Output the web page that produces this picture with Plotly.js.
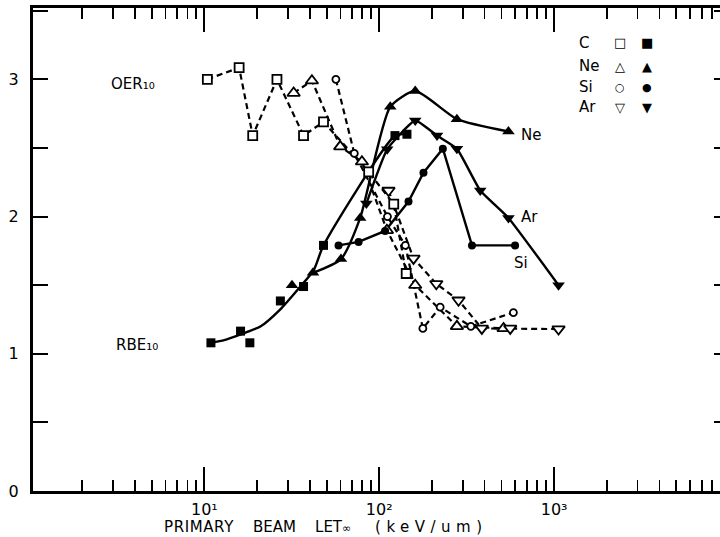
<!DOCTYPE html>
<html>
<head>
<meta charset="utf-8">
<script src="https://cdn.plot.ly/plotly-3.0.1.min.js"></script>
<style>
html, body { margin:0; padding:0; overflow:hidden; background:#fff; }
#chart { width:735px; height:537px; }
</style>
</head>
<body>
<div id="chart"></div>
<script>
// ---- Data (LET in keV/um) ----
// OER10 (open symbols, dashed)
const oerC_x  = [10.4, 15.8, 18.9, 26, 36.9, 48, 87, 121, 142.6];
const oerC_y  = [3.0, 3.085, 2.59, 3.0, 2.59, 2.69, 2.325, 2.09, 1.585];
const oerNe_x = [32.4, 41.2, 59.8, 79.6, 110.6, 160.6, 278, 514];
const oerNe_y = [2.90, 2.99, 2.51, 2.40, 1.90, 1.50, 1.20, 1.185];
const oerSi_x = [56.5, 72, 111.4, 141, 177.6, 223, 334, 585];
const oerSi_y = [3.0, 2.46, 2.0, 1.79, 1.185, 1.34, 1.20, 1.30];
const oerAr_x = [113, 157, 212, 284, 386, 561, 1060];
const oerAr_y = [2.19, 1.695, 1.51, 1.39, 1.185, 1.185, 1.18];

// RBE10 (filled symbols, solid)
const rbeC_x  = [10.9, 16.1, 18.2, 27.2, 36.9, 48, 123, 144];
const rbeC_y  = [1.08, 1.165, 1.08, 1.385, 1.49, 1.79, 2.59, 2.60];
const rbeNe_x = [31.7, 41.8, 60.4, 77.8, 115.6, 160.6, 278, 548];
const rbeNe_y = [1.50, 1.59, 1.69, 1.99, 2.80, 2.915, 2.71, 2.62];
const rbeSi_x = [58.5, 76.2, 108, 147, 179, 231, 339, 598];
const rbeSi_y = [1.79, 1.815, 1.895, 2.11, 2.32, 2.495, 1.79, 1.79];
const rbeAr_x = [84.4, 111, 160.6, 214, 278, 378, 548, 1060];
const rbeAr_y = [2.095, 2.49, 2.70, 2.59, 2.495, 2.19, 1.99, 1.50];

// Smooth low-LET RBE curve (drawn through the C points)
const rbeFit_x = [10.9, 13, 16, 21, 27, 35.4, 42.2, 48, 123, 144];
const rbeFit_y = [1.08, 1.10, 1.14, 1.20, 1.32, 1.49, 1.61, 1.79, 2.59, 2.60];

const ions = ['C', 'Ne', 'Si', 'Ar'];
const keyOpen = ['\u25A1', '\u25B3', '\u25CB', '\u25BD'];
const keyFilled = ['\u25A0', '\u25B2', '\u25CF', '\u25BC'];
const decadeVals = [10, 100, 1000];
const decadeText = ['10\u00B9', '10\u00B2', '10\u00B3'];
const yTickVals = [0, 1, 2, 3];
const yHalfVals = [0.5, 1.5, 2.5, 3.5];

// minor log ticks 2..9 in each decade (axis structure)
const minorVals = [];
[1, 10, 100, 1000].forEach(function(d){ for (let m = 2; m <= 9; m++) minorVals.push(m * d); });

// ---- Styles ----
const FONT = 'DejaVu Sans, Arial, sans-serif';
const K = '#000';
const sym = {C:'square', Ne:'triangle-up', Si:'circle', Ar:'triangle-down'};
const openSize = {C:9, Ne:11, Si:7, Ar:11};
const fillSize = {C:9, Ne:11, Si:8, Ar:11};
const keySize = {C:13, Ne:13, Si:11, Ar:13};

const oer = {C:[oerC_x, oerC_y], Ne:[oerNe_x, oerNe_y], Si:[oerSi_x, oerSi_y], Ar:[oerAr_x, oerAr_y]};
const rbe = {C:[rbeC_x, rbeC_y], Ne:[rbeNe_x, rbeNe_y], Si:[rbeSi_x, rbeSi_y], Ar:[rbeAr_x, rbeAr_y]};

const traces = [];
ions.forEach(function(ion){
  traces.push({x:oer[ion][0], y:oer[ion][1], mode:'lines', name:'OER '+ion, hoverinfo:'skip',
    line:{color:K, width:2.2, dash:'6px,4px'}});
});
traces.push({x:rbeFit_x, y:rbeFit_y, mode:'lines', name:'RBE C', line:{color:K, width:2.4, shape:'spline', smoothing:0.6}});
traces.push({x:rbeNe_x.slice(1), y:rbeNe_y.slice(1), mode:'lines', name:'RBE Ne', line:{color:K, width:2.4, shape:'spline', smoothing:0.6}});
traces.push({x:rbeSi_x, y:rbeSi_y, mode:'lines', name:'RBE Si', line:{color:K, width:2.4}});
traces.push({x:rbeAr_x, y:rbeAr_y, mode:'lines', name:'RBE Ar', line:{color:K, width:2.4, shape:'spline', smoothing:0.4}});
ions.forEach(function(ion){
  traces.push({x:oer[ion][0], y:oer[ion][1], mode:'markers', name:'OER '+ion,
    marker:{symbol:sym[ion], size:openSize[ion], color:'#fff', line:{color:K, width:1.8}}});
});
ions.forEach(function(ion){
  traces.push({x:rbe[ion][0], y:rbe[ion][1], mode:'markers', name:'RBE '+ion,
    marker:{symbol:sym[ion], size:fillSize[ion], color:K, line:{color:K, width:0}}});
});

const W = 696, H = 483, L = 33, T = 8;
function px(xp){ return (xp - L) / W; }
function py(yp){ return (T + H - yp) / H; }
function ann(text, xp, yp, xa, size){
  return {text:text, x:px(xp), y:py(yp), xref:'paper', yref:'paper', xanchor:xa||'center', yanchor:'middle',
          showarrow:false, font:{family:FONT, size:size||15, color:K}};
}

const keyRows = [43, 66, 87, 107];
const annotations = [
  ann('OER\u2081\u2080', 133, 84, 'center', 15),
  ann('RBE\u2081\u2080', 137, 345, 'center', 15),
  ann('Ne', 519, 135, 'left'),
  ann('Ar', 519, 217, 'left'),
  ann('Si', 512, 263, 'left'),
  ann('<span style="letter-spacing:0.6px">PRIMARY</span>\u00a0\u00a0\u00a0 BEAM\u00a0\u00a0\u00a0 LET<span style="font-size:11px">\u221e</span>\u00a0\u00a0\u00a0\u00a0 <span style="letter-spacing:5.5px">(keV/um)</span>', 162, 527, 'left', 15)
];
ions.forEach(function(ion, i){
  annotations.push(ann(ion, 577, keyRows[i], 'left'));
  annotations.push(ann(keyOpen[i], 620, keyRows[i], 'center', keySize[ion]));
  annotations.push(ann(keyFilled[i], 647, keyRows[i], 'center', keySize[ion]));
});

const xRange = [0.02, 4];
const yRange = [0, 3.52];
const axLine = {showgrid:false, zeroline:false, showline:true, linewidth:3, linecolor:K,
  mirror:'ticks', ticks:'inside', tickcolor:K};

const layout = {
  width:735, height:537,
  margin:{l:L, r:735 - L - W, t:T, b:537 - T - H, pad:0},
  paper_bgcolor:'#fff', plot_bgcolor:'#fff',
  font:{family:FONT, size:15, color:K},
  showlegend:false,
  xaxis:Object.assign({}, axLine, {type:'log', range:xRange, tickmode:'array', tickvals:minorVals,
    ticklen:11, tickwidth:1.8, showticklabels:false}),
  xaxis2:Object.assign({}, axLine, {type:'log', range:xRange, overlaying:'x', anchor:'y', side:'bottom',
    tickmode:'array', tickvals:decadeVals, ticktext:decadeText, ticklen:24, tickwidth:2,
    ticklabelstandoff:2, tickfont:{family:FONT, size:16, color:K}}),
  yaxis:Object.assign({}, axLine, {range:yRange, tickmode:'array', tickvals:yTickVals,
    ticklen:15, tickwidth:2, ticklabelstandoff:8, tickfont:{family:FONT, size:16, color:K}}),
  yaxis2:Object.assign({}, axLine, {range:yRange, overlaying:'y', anchor:'x', side:'left',
    tickmode:'array', tickvals:yHalfVals, ticklen:15, tickwidth:2, showticklabels:false}),
  annotations:annotations
};

// an invisible carrier trace so the overlay axes are drawn
traces.push({x:[decadeVals[0]], y:[yTickVals[0]], xaxis:'x2', yaxis:'y2', mode:'markers',
  marker:{opacity:0}, hoverinfo:'skip', showlegend:false});

Plotly.newPlot('chart', traces, layout, {displayModeBar:false, staticPlot:true});
</script>
</body>
</html>
